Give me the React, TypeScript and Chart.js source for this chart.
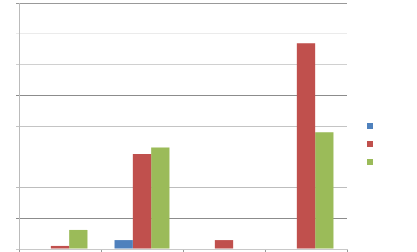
import React, { useEffect, useRef } from "react";
import { Chart, registerables } from "chart.js";

Chart.register(...registerables);

const categories = ["A", "B", "C", "D"];
const seriesNames = ["Series 1", "Series 2", "Series 3"];
const series1 = [0, 0.29, 0, 0];
const series2 = [0.1, 3.09, 0.29, 6.69];
const series3 = [0.62, 3.3, 0, 3.8];
const yTicks = [0, 1, 2, 3, 4, 5, 6, 7, 8];

const colors = ["#4F81BD", "#C0504D", "#9BBB59"];
const gridColors = ["#c8c8c8", "#8c8c8c", "#bdbdbd", "rgba(0,0,0,0)", "#c4c4c4", "#8c8c8c", "#d0d0d0", "#ebebeb", "#999999"];

const legendPlugin = {
  id: "squareLegend",
  afterDraw(chart: any) {
    const { ctx, chartArea } = chart;
    const x = chartArea.right + 20;
    const yMid = (chartArea.top + chartArea.bottom) / 2;
    chart.data.datasets.forEach((ds: any, i: number) => {
      ctx.save();
      ctx.fillStyle = ds.backgroundColor;
      ctx.fillRect(x, yMid - 3 + i * 18, 6, 6);
      ctx.restore();
    });
  },
};

export default function App() {
  const ref = useRef<HTMLCanvasElement | null>(null);
  useEffect(() => {
    document.body.style.margin = "0";
    const data = [series1, series2, series3];
    const chart = new Chart(ref.current as HTMLCanvasElement, {
      type: "bar",
      data: {
        labels: categories,
        datasets: data.map((d, i) => ({
          label: seriesNames[i],
          data: d,
          backgroundColor: colors[i],
          borderWidth: 0,
          categoryPercentage: 0.67,
          barPercentage: 1,
        })),
      },
      options: {
        animation: false,
        responsive: true,
        maintainAspectRatio: false,
        layout: { padding: { left: 16, top: 3, right: 70, bottom: 0 } },
        plugins: { legend: { display: false }, tooltip: { enabled: false } },
        scales: {
          x: {
            ticks: { display: false },
            grid: { drawOnChartArea: false, drawTicks: true, tickLength: 3, color: "#999999" },
            border: { color: "#c8c8c8" },
          },
          y: {
            min: 0,
            max: 8,
            afterBuildTicks: (scale: any) => {
              scale.ticks = yTicks.map((v) => ({ value: v }));
            },
            ticks: { display: false },
            grid: {
              tickLength: 3,
              color: (ctx: any) => gridColors[ctx.index] ?? "#ccc",
            },
            border: { color: "#bbbbbb" },
          },
        },
      },
      plugins: [legendPlugin],
    });
    return () => chart.destroy();
  }, []);
  return (
    <div style={{ position: "fixed", left: 0, top: 0, width: 417, height: 252 }}>
      <canvas ref={ref} />
    </div>
  );
}
